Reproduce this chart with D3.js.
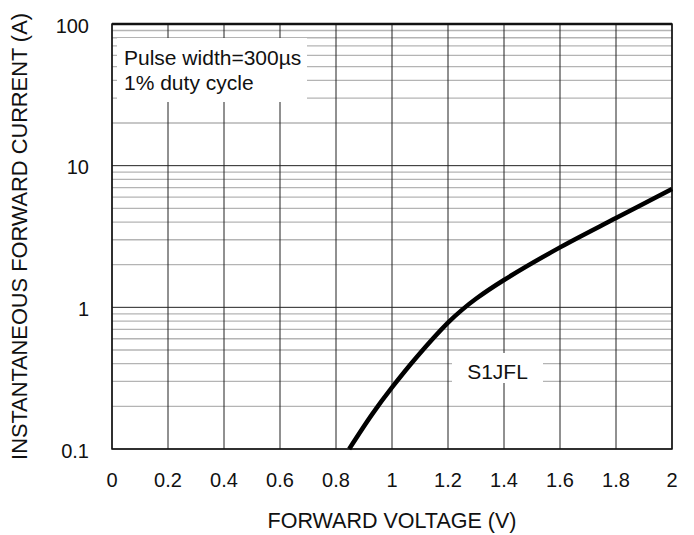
<!DOCTYPE html>
<html>
<head>
<meta charset="utf-8">
<script src="https://cdn.jsdelivr.net/npm/d3@7"></script>
<style>
  body { margin: 0; background: #fff; }
  text { font-family: "Liberation Sans", Arial, sans-serif; fill: #111; }
</style>
</head>
<body>
<svg id="chart" width="694" height="535"></svg>
<script>
// forward voltage (V) vs instantaneous forward current (A)
var voltage = [0.847, 0.93, 1.0, 1.09, 1.2, 1.25, 1.3, 1.4, 1.6, 1.8, 2.0];
var current = [0.1, 0.177, 0.272, 0.45, 0.78, 0.96, 1.15, 1.56, 2.65, 4.27, 6.84];
var xTicks = [0, 0.2, 0.4, 0.6, 0.8, 1, 1.2, 1.4, 1.6, 1.8, 2];
var yTicks = [0.1, 1, 10, 100];
var yTickLabels = ["0.1", "1", "10", "100"];

var svg = d3.select("svg#chart"),
    margin = {top: 24, right: 22, bottom: 86, left: 112},
    width = +svg.attr("width") - margin.left - margin.right,
    height = +svg.attr("height") - margin.top - margin.bottom;

var x = d3.scaleLinear().domain([0, 2]).range([0, width]),
    y = d3.scaleLog().domain([0.1, 100]).range([height, 0]);

var g = svg.append("g")
    .attr("transform", "translate(" + margin.left + "," + margin.top + ")");

// minor log grid
var minor = [];
[0.1, 1, 10].forEach(function (d) {
    for (var k = 2; k <= 9; k++) minor.push(d * k);
});
g.selectAll(".minor")
    .data(minor)
    .enter().append("line")
    .attr("x1", 0).attr("x2", width)
    .attr("y1", function (d) { return y(d); })
    .attr("y2", function (d) { return y(d); })
    .attr("stroke", "#b4b4b4")
    .attr("stroke-width", 1.3);

// decade lines
g.selectAll(".major")
    .data(yTicks)
    .enter().append("line")
    .attr("x1", 0).attr("x2", width)
    .attr("y1", function (d) { return y(d); })
    .attr("y2", function (d) { return y(d); })
    .attr("stroke", "#222")
    .attr("stroke-width", 1);

// vertical grid
g.selectAll(".vgrid")
    .data(xTicks)
    .enter().append("line")
    .attr("y1", 0).attr("y2", height)
    .attr("x1", function (d) { return x(d); })
    .attr("x2", function (d) { return x(d); })
    .attr("stroke", "#222")
    .attr("stroke-width", 1);

// frame
g.append("rect")
    .attr("width", width).attr("height", height)
    .attr("fill", "none")
    .attr("stroke", "#111")
    .attr("stroke-width", 1.5);
g.append("line")
    .attr("x1", 0).attr("x2", width)
    .attr("stroke", "#111").attr("stroke-width", 2.5);

// annotation boxes
g.append("rect")
    .attr("x", 5).attr("y", 14).attr("width", 190).attr("height", 64)
    .attr("fill", "#fff");
g.append("text")
    .attr("x", 12).attr("y", 41)
    .attr("font-size", 21)
    .text("Pulse width=300\u00b5s");
g.append("text")
    .attr("x", 12).attr("y", 66)
    .attr("font-size", 21)
    .text("1% duty cycle");

g.append("rect")
    .attr("x", 340).attr("y", 329).attr("width", 91).attr("height", 30)
    .attr("fill", "#fff");
g.append("text")
    .attr("x", 385.5).attr("y", 355)
    .attr("text-anchor", "middle")
    .attr("font-size", 21)
    .text("S1JFL");

// curve
var pts = voltage.map(function (v, i) { return [v, current[i]]; });
var line = d3.line()
    .x(function (d) { return x(d[0]); })
    .y(function (d) { return y(d[1]); })
    .curve(d3.curveCatmullRom.alpha(0.5));
g.append("path")
    .datum(pts)
    .attr("d", line)
    .attr("fill", "none")
    .attr("stroke", "#000")
    .attr("stroke-width", 4.5);

// tick labels
g.selectAll(".xl")
    .data(xTicks)
    .enter().append("text")
    .attr("x", function (d) { return x(d); })
    .attr("y", height + 38)
    .attr("text-anchor", "middle")
    .attr("font-size", 20)
    .text(function (d) { return d; });

g.selectAll(".yl")
    .data(yTicks)
    .enter().append("text")
    .attr("x", -23)
    .attr("y", function (d) { return y(d) + 8.5; })
    .attr("text-anchor", "end")
    .attr("font-size", 20)
    .text(function (d, i) { return yTickLabels[i]; });

// axis titles
g.append("text")
    .attr("x", width / 2)
    .attr("y", height + 79)
    .attr("text-anchor", "middle")
    .attr("font-size", 21.5)
    .text("FORWARD VOLTAGE (V)");

g.append("text")
    .attr("transform", "translate(-85," + (height / 2) + ") rotate(-90)")
    .attr("text-anchor", "middle")
    .attr("font-size", 21.8)
    .text("INSTANTANEOUS FORWARD CURRENT (A)");
</script>
</body>
</html>
